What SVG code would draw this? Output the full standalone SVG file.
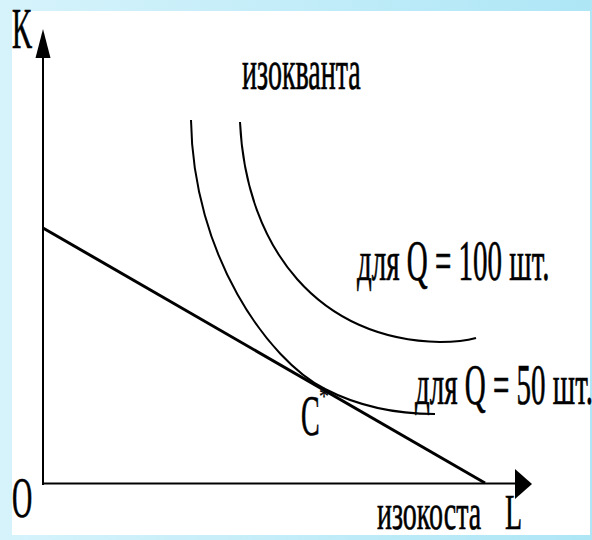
<svg xmlns="http://www.w3.org/2000/svg" width="592" height="540" viewBox="0 0 592 540">
<defs>
<linearGradient id="bg" x1="0" y1="0" x2="1" y2="0">
<stop offset="0" stop-color="#d6f3fb"/>
<stop offset="1" stop-color="#aee6f6"/>
</linearGradient>
<style>
.t{font-family:"Liberation Serif","Times New Roman",serif;font-size:28px;fill:#000;stroke:#000;stroke-width:0.35}
.q{font-size:29px}
.ax{stroke:#000;stroke-width:2;fill:none}
.cv{stroke:#000;stroke-width:2;fill:none}
.ic{stroke:#000;stroke-width:3;fill:none}
</style>
</defs>
<rect x="0" y="0" width="592" height="540" fill="url(#bg)"/>
<rect x="12" y="11" width="578" height="524" fill="#fff"/>
<g id="connectors">
<g id="axis-k">
<line class="ax" x1="43" y1="56" x2="43" y2="485"/>
<polygon points="43,29 35.5,58 50.5,58" fill="#000"/>
</g>
<g id="axis-l">
<line class="ax" x1="42" y1="483.5" x2="518" y2="483.5"/>
<polygon points="532,484 515,469 515,499" fill="#000"/>
</g>
<path id="isocost" class="ic" d="M43,228 L485,483"/>
<path id="q50" class="cv" d="M191,120 C193,255 268,360 325,389 C358,406 395,414 435,414"/>
<path id="q100" class="cv" d="M240,122 C246,250 320,340 440,342 Q462,342 476,338"/>
</g>
<g id="label-k"><text class="t" transform="translate(12,48) scale(1,2)">K</text></g>
<g id="label-izokvanta"><text class="t" transform="translate(242,89) scale(1,2)">изокванта</text></g>
<g id="label-q100"><text class="t q" transform="translate(357,280) scale(1,2)">для Q = 100 шт.</text></g>
<g id="label-q50"><text class="t q" transform="translate(415,404) scale(1,2)">для Q = 50 шт.</text></g>
<g id="label-c"><text class="t" transform="translate(301,435) scale(1,2)">C</text><text class="t" style="font-size:20px;stroke-width:0.2" transform="translate(319,405) scale(1,1.3)">*</text></g>
<g id="label-o"><text class="t" transform="translate(12,517) scale(1,2)">O</text></g>
<g id="label-izokosta"><text class="t" transform="translate(377,529) scale(1,1.8)">изокоста</text></g>
<g id="label-l"><text class="t" transform="translate(505,529) scale(1,1.8)">L</text></g>
</svg>
